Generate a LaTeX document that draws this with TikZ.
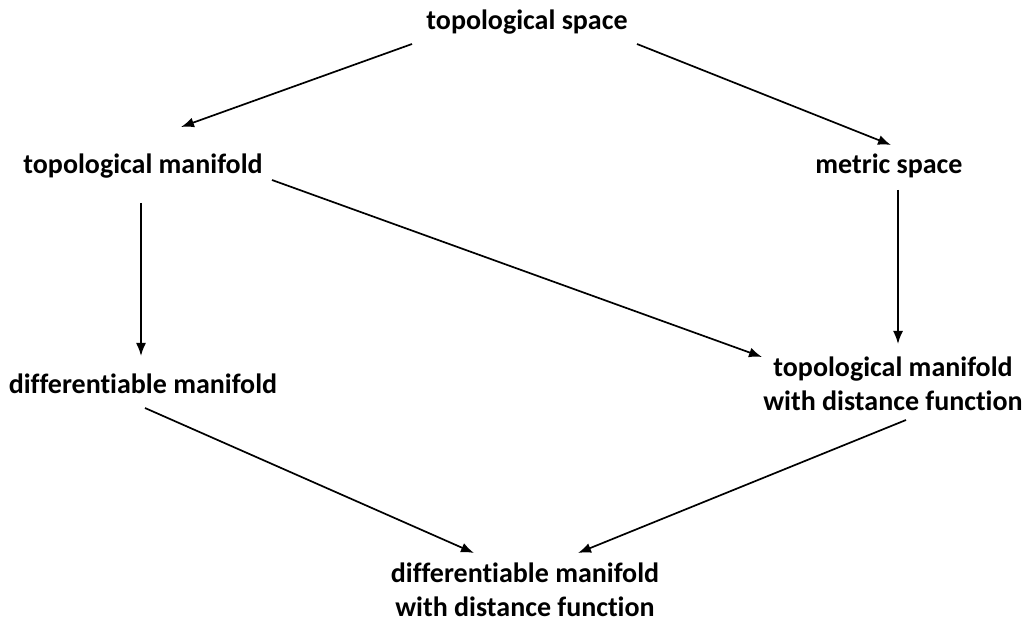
\documentclass[tikz,border=0pt]{standalone}
\usepackage{fontspec}
\setmainfont[Ligatures=NoCommon]{Carlito}
\usetikzlibrary{arrows.meta,calc}

\begin{document}
\begin{tikzpicture}[x=0.5pt,y=-0.5pt,
    concept/.style={align=center,inner sep=0pt,font=\bfseries\fontsize{14}{17}\selectfont},
    imp/.style={-{Latex[length=6.5pt,width=5pt]},line width=0.85pt}]
    \useasboundingbox (0,0) rectangle (1024,620);

    % spaces and manifolds
    \node[concept] (top) at (527,22) {topological space};
    \node[concept] (topman) at (143,166) {topological manifold};
    \node[concept] (metric) at (889,166) {metric space};
    \node[concept] (diffman) at (143,384) {differentiable manifold};
    \node[concept] (topdist) at (893,384) {topological manifold\\with distance function};
    \node[concept] (diffdist) at (525,590) {differentiable manifold\\with distance function};

    % implications
    \draw[imp] ($(top)+(-115,22)$) -- ($(topman)+(38,-39)$);
    \draw[imp] ($(top)+(110,22)$) -- ($(metric)+(2,-21)$);
    \draw[imp] ($(topman)+(-2,37)$) -- ($(diffman)+(-2,-28)$);
    \draw[imp] ($(metric)+(9,24)$) -- ($(topdist)+(5,-40)$);
    \draw[imp] ($(topman)+(129,14)$) -- ($(topdist)+(-131,-27)$);
    \draw[imp] ($(diffman)+(2,24)$) -- ($(diffdist)+(-51,-37)$);
    \draw[imp] ($(topdist)+(13,36)$) -- ($(diffdist)+(53,-37)$);
\end{tikzpicture}
\end{document}
